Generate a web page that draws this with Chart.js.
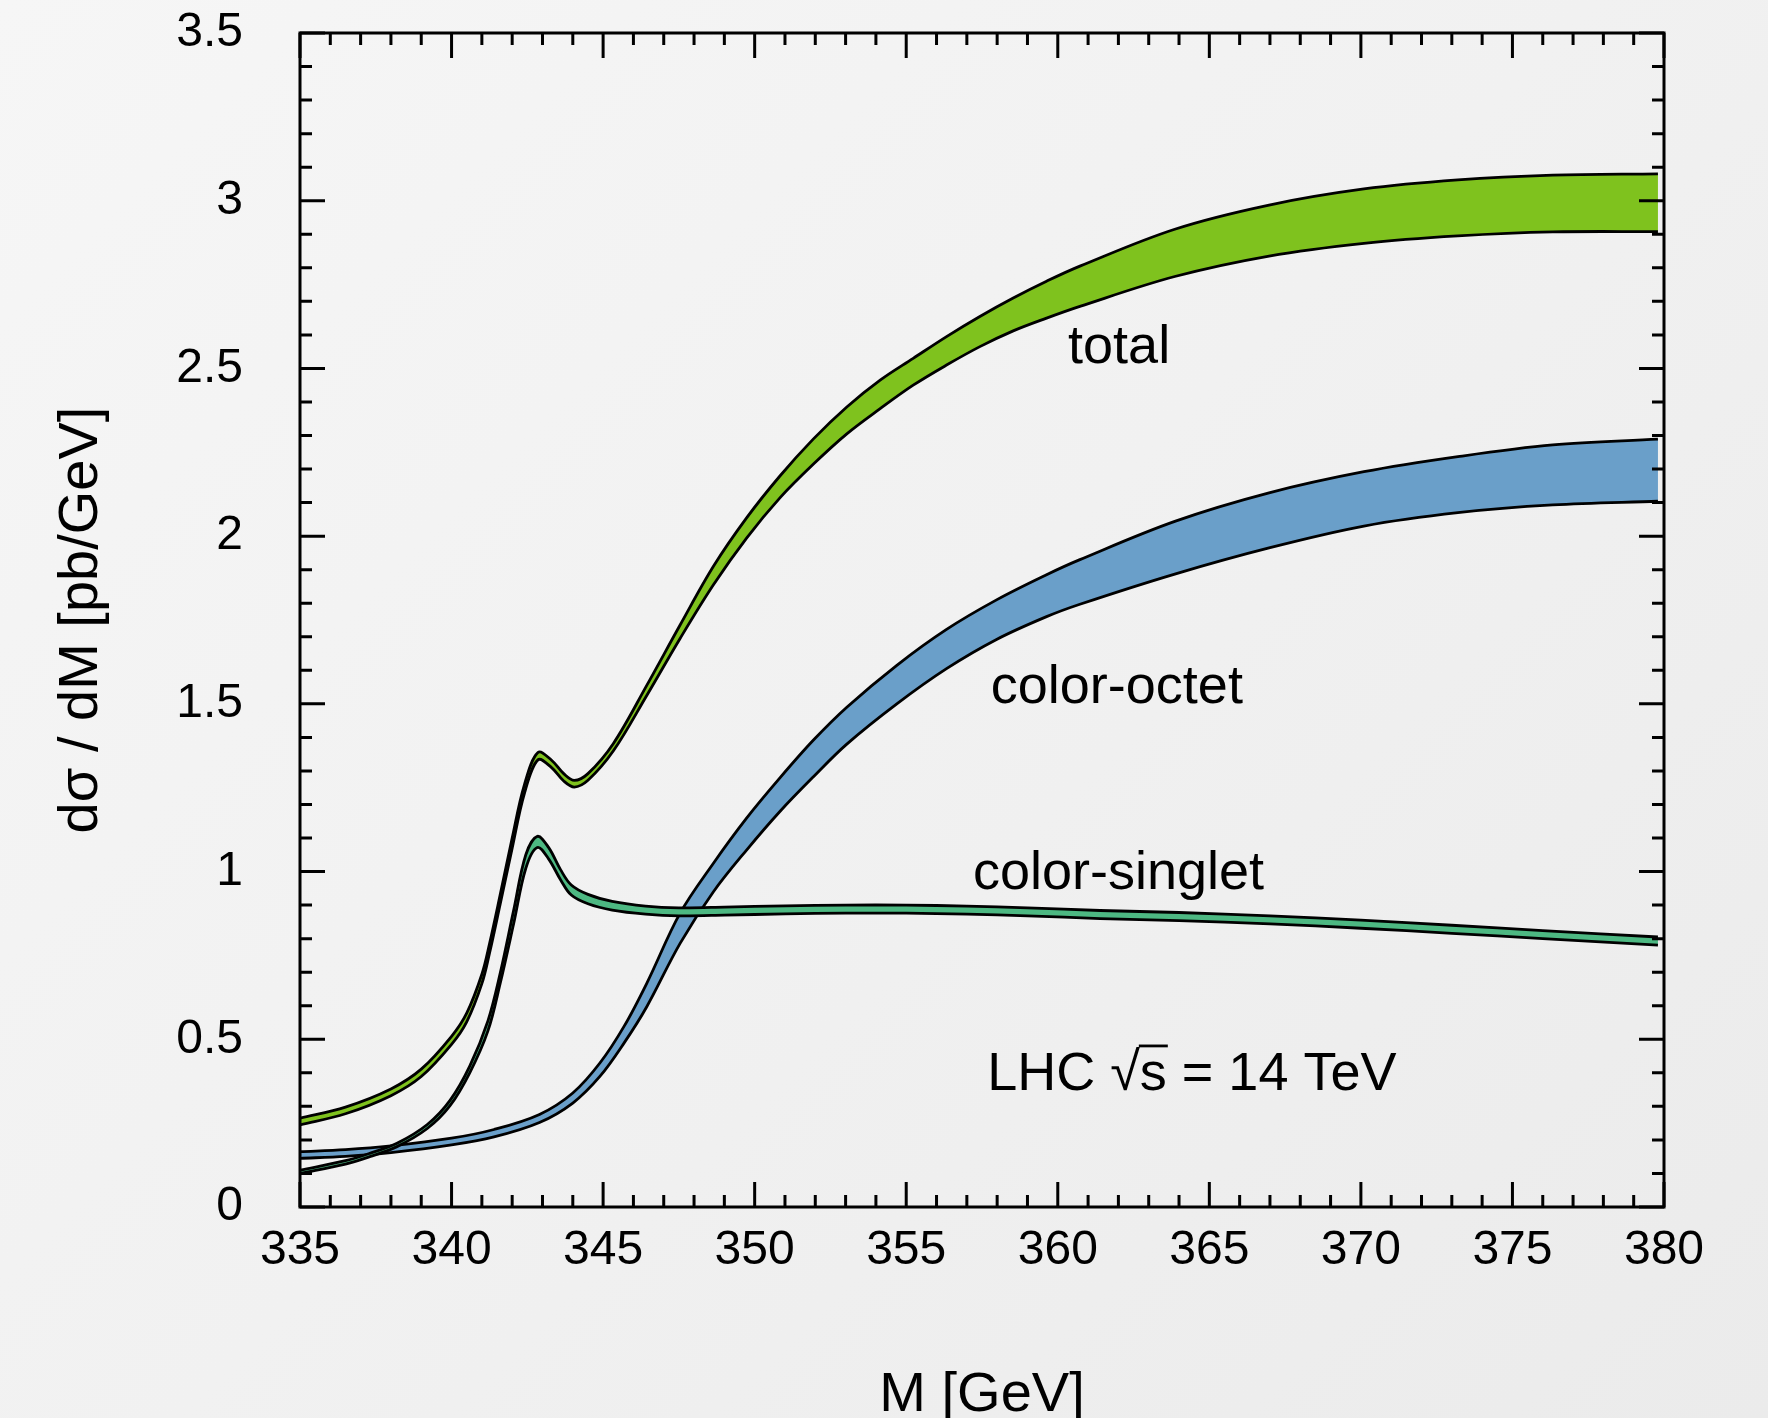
<!DOCTYPE html>
<html>
<head>
<meta charset="utf-8">
<script src="https://cdn.jsdelivr.net/npm/chart.js@4.4.1/dist/chart.umd.min.js"></script>
<style>
  html, body { margin: 0; padding: 0; width: 1768px; height: 1418px; overflow: hidden;
    background: linear-gradient(135deg, #f6f6f6 0%, #f1f1f1 50%, #ebebeb 100%); }
  canvas { display: block; }
</style>
</head>
<body>
<canvas id="chart" width="1768" height="1418"></canvas>
<script>
// ---- data ----
const xTickValues = [335, 340, 345, 350, 355, 360, 365, 370, 375, 380];
const yTickValues = [0, 0.5, 1, 1.5, 2, 2.5, 3, 3.5];

const totalX = [335, 336.5, 338, 339, 340, 340.5, 341, 341.25, 341.6, 342, 342.4, 342.85, 343.3, 343.7, 344.05, 344.5,
  345.34, 346.44, 347.54, 348.64, 349.74, 350.84, 351.94, 353.04, 354.14, 355.23, 356.33, 357.43, 358.53,
  359.63, 360.73, 363.86, 366.97, 370.1, 373.2, 376.33, 379.8];
const totalUpper = [0.265, 0.298, 0.352, 0.411, 0.509, 0.578, 0.694, 0.784, 0.929, 1.1, 1.258, 1.355, 1.332, 1.292, 1.272, 1.292,
  1.382, 1.555, 1.735, 1.91, 2.055, 2.18, 2.29, 2.385, 2.465, 2.53, 2.595, 2.655, 2.71,
  2.76, 2.805, 2.915, 2.987, 3.035, 3.062, 3.076, 3.08];
const totalLower = [0.245, 0.278, 0.332, 0.389, 0.485, 0.552, 0.666, 0.756, 0.901, 1.07, 1.232, 1.333, 1.31, 1.27, 1.252, 1.272,
  1.36, 1.525, 1.695, 1.855, 1.995, 2.115, 2.215, 2.305, 2.38, 2.45, 2.51, 2.565, 2.612,
  2.65, 2.685, 2.774, 2.835, 2.873, 2.895, 2.907, 2.908];

const octetX = [335, 336.5, 338, 340, 341.4, 342.9, 344, 344.9, 345.7, 346.44, 347.54, 348.64, 349.74, 350.84,
  351.94, 353.04, 354.69, 356.33, 357.98, 359.63, 360.73, 363.86, 366.97, 370.1, 373.2, 376.33, 379.8];
const octetUpper = [0.165, 0.171, 0.182, 0.205, 0.231, 0.276, 0.34, 0.43, 0.54, 0.667, 0.876, 1.025, 1.16, 1.28,
  1.392, 1.49, 1.615, 1.722, 1.81, 1.885, 1.93, 2.044, 2.129, 2.192, 2.237, 2.272, 2.289];
const octetLower = [0.145, 0.151, 0.162, 0.185, 0.209, 0.252, 0.31, 0.39, 0.49, 0.597, 0.786, 0.94, 1.065, 1.18,
  1.283, 1.38, 1.5, 1.605, 1.692, 1.76, 1.797, 1.887, 1.965, 2.03, 2.07, 2.093, 2.104];

const singletX = [335, 336.5, 337.3, 338.2, 339.2, 339.95, 340.6, 341.2, 341.6, 342.05, 342.45, 342.83, 343.2, 343.6,
  343.95, 344.5, 345.3, 346.4, 347.5, 349, 351, 353, 355, 357, 359, 361.4, 364, 367, 370, 373, 376, 379.8];
const singletUpper = [0.110, 0.138, 0.160, 0.190, 0.246, 0.318, 0.42, 0.555, 0.695, 0.885, 1.05, 1.105, 1.072, 1.005,
  0.96, 0.932, 0.911, 0.897, 0.892, 0.894, 0.898, 0.900, 0.900, 0.897, 0.892, 0.884, 0.878, 0.868, 0.855, 0.840, 0.824, 0.805];
const singletLower = [0.100, 0.128, 0.150, 0.180, 0.234, 0.302, 0.40, 0.525, 0.665, 0.845, 1.01, 1.072, 1.038, 0.975,
  0.93, 0.904, 0.885, 0.873, 0.868, 0.870, 0.874, 0.876, 0.876, 0.873, 0.868, 0.860, 0.854, 0.844, 0.831, 0.816, 0.800, 0.781];

const seriesLabels = ['total', 'color-octet', 'color-singlet'];
const noteText = ['LHC ', '√', 's', ' = 14 TeV'];

// ---- helpers ----
const pts = (xs, ys) => xs.map((x, i) => ({ x: x, y: ys[i] }));
const FONT = '"Liberation Sans", Arial, Helvetica, sans-serif';
const GREEN = '#7fc21e', BLUE = '#6a9fc9', TEAL = '#4db882';

function lineDs(label, data, fill, bg) {
  return {
    label, data, fill: fill, backgroundColor: bg || 'transparent',
    borderColor: '#000', borderWidth: 2.8, pointRadius: 0, pointHoverRadius: 0,
    tension: 0.35, borderJoinStyle: 'round', borderCapStyle: 'butt'
  };
}

const framePlugin = {
  id: 'frameTicks',
  afterDatasetsDraw(chart) {
    const { ctx, chartArea: a, scales: { x, y } } = chart;
    ctx.save();
    ctx.strokeStyle = '#000';
    ctx.lineWidth = 3;
    ctx.beginPath();
    for (let i = 0; i <= 45; i++) {
      const px = x.getPixelForValue(335 + i);
      const len = (i % 5 === 0) ? 25 : 12;
      ctx.moveTo(px, a.bottom); ctx.lineTo(px, a.bottom - len);
      ctx.moveTo(px, a.top); ctx.lineTo(px, a.top + len);
    }
    for (let i = 0; i <= 35; i++) {
      const py = y.getPixelForValue(i / 10);
      const len = (i % 5 === 0) ? 25 : 12;
      ctx.moveTo(a.left, py); ctx.lineTo(a.left + len, py);
      ctx.moveTo(a.right, py); ctx.lineTo(a.right - len, py);
    }
    ctx.stroke();
    ctx.strokeRect(a.left, a.top, a.width, a.height);

    // in-plot labels
    ctx.fillStyle = '#000';
    ctx.font = '54px ' + FONT;
    ctx.textAlign = 'left';
    ctx.textBaseline = 'alphabetic';
    const labelAnchors = [[360.34, 2.516], [357.79, 1.503], [357.2, 0.948]];
    seriesLabels.forEach((t, i) => {
      ctx.fillText(t, x.getPixelForValue(labelAnchors[i][0]), y.getPixelForValue(labelAnchors[i][1]));
    });
    // LHC sqrt(s) = 14 TeV
    let px = x.getPixelForValue(357.67);
    const by = y.getPixelForValue(0.349);
    let sStart = 0, sEnd = 0;
    noteText.forEach((t, i) => {
      if (i === 2) sStart = px;
      ctx.fillText(t, px, by);
      px += ctx.measureText(t).width;
      if (i === 2) sEnd = px;
    });
    ctx.lineWidth = 2.8;
    ctx.beginPath();
    ctx.moveTo(sStart - 1, by - 44);
    ctx.lineTo(sEnd + 1, by - 44);
    ctx.stroke();
    ctx.restore();
  }
};

new Chart(document.getElementById('chart'), {
  type: 'line',
  data: {
    datasets: [
      lineDs('singlet lower', pts(singletX, singletLower), false),
      lineDs('singlet upper', pts(singletX, singletUpper), '-1', TEAL),
      lineDs('octet lower', pts(octetX, octetLower), false),
      lineDs('octet upper', pts(octetX, octetUpper), '-1', BLUE),
      lineDs('total lower', pts(totalX, totalLower), false),
      lineDs('total upper', pts(totalX, totalUpper), '-1', GREEN)
    ]
  },
  options: {
    responsive: false,
    animation: false,
    devicePixelRatio: 1,
    layout: { padding: { top: 33, right: 104, left: 0, bottom: 0 } },
    plugins: { legend: { display: false }, tooltip: { enabled: false },
      filler: { drawTime: 'beforeDatasetDraw' } },
    scales: {
      x: {
        type: 'linear', min: 335, max: 380,
        grid: { display: false, drawTicks: false, tickLength: 0 },
        border: { display: false },
        afterBuildTicks: s => { s.ticks = xTickValues.map(v => ({ value: v })); },
        afterFit: s => { s.height = 211; s.paddingLeft = 0; s.paddingRight = 0; },
        ticks: { autoSkip: false, maxRotation: 0, padding: 15, color: '#000',
          font: { family: FONT, size: 48 }, callback: v => String(v) },
        title: { display: true, text: 'M [GeV]', color: '#000',
          font: { family: FONT, size: 56, lineHeight: 0.8 }, padding: { top: 0, bottom: 0 } }
      },
      y: {
        type: 'linear', min: 0, max: 3.5,
        grid: { display: false, drawTicks: false, tickLength: 0 },
        border: { display: false },
        afterBuildTicks: s => { s.ticks = yTickValues.map(v => ({ value: v })); },
        afterFit: s => { s.width = 300; s.paddingTop = 0; s.paddingBottom = 0; },
        ticks: { padding: 57, color: '#000', font: { family: FONT, size: 48 },
          callback: v => String(+(+v).toFixed(1)) },
        title: { display: true, text: 'dσ / dM [pb/GeV]', color: '#000',
          font: { family: FONT, size: 56, lineHeight: 1 }, padding: { top: 54, bottom: 0 } }
      }
    }
  },
  plugins: [framePlugin]
});
</script>
</body>
</html>
